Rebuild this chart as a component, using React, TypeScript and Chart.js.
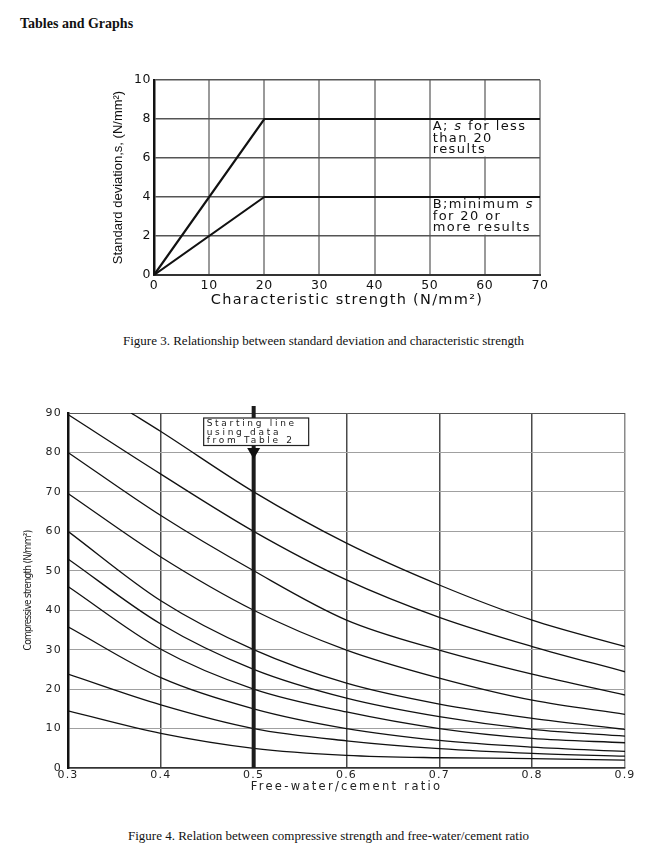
import React, { useEffect, useRef } from 'react';
import { Chart, registerables } from 'chart.js';

Chart.register(...registerables);

// ---------------- Figure 3 data ----------------
const charStrength = [0, 20, 70];
const sdLessThan20 = [0, 8, 8];
const sdMinimum = [0, 4, 4];
const fig3XTicks = [0, 10, 20, 30, 40, 50, 60, 70];
const fig3YTicks = [0, 2, 4, 6, 8, 10];
const noteALines = ['A; _s_ for less', 'than 20', 'results'];
const noteBLines = ['B;minimum _s_', 'for 20 or', 'more results'];

// ---------------- Figure 4 data ----------------
const wcRatio = [0.3, 0.4, 0.5, 0.6, 0.7, 0.8, 0.9];
const curve1Ratio = [0.368, 0.4, 0.5, 0.6, 0.7, 0.8, 0.9];
const curve1 = [90, 85.3, 70, 57, 46.4, 37.5, 30.8];
const curve2 = [89.6, 74.5, 60, 47.7, 38.2, 30.8, 24.4];
const curve3 = [80, 64, 50, 37.5, 29.9, 23.8, 18.5];
const curve4 = [69.6, 53.5, 40, 29.9, 22.8, 17.2, 13.6];
const curve5 = [60, 42.4, 30, 21.5, 16.2, 12.6, 9.8];
const curve6 = [53, 36.5, 25, 17.7, 13, 9.8, 8.1];
const curve7 = [46, 30.1, 20, 14.2, 10, 7.5, 6.4];
const curve8 = [35.8, 22.9, 15, 10, 7, 5.3, 4.2];
const curve9 = [23.8, 16, 10, 6.9, 4.9, 3.7, 3.0];
const curve10 = [14.5, 8.8, 5, 3.2, 2.6, 2.4, 2.0];
const wcTickValues = [0.3, 0.4, 0.5, 0.6, 0.7, 0.8, 0.9];
const wcTickLabels = ['0.3', '0.4', '0.5', '0.6', '0.7', '0.8', '0.9'];
const csTicks = [0, 10, 20, 30, 40, 50, 60, 70, 80, 90];
const startingLineRatio = 0.5;
const startingLineText = ['Starting line', 'using data', 'from Table 2'];

function zeroPad(s: any) {
  s.paddingLeft = 0;
  s.paddingRight = 0;
  s.paddingTop = 0;
  s.paddingBottom = 0;
}

function spacingPlugin(spec: Record<string, { ticks?: number; title?: number }>) {
  return {
    id: 'letterSpacingWrap',
    beforeDraw(chart: any) {
      for (const id of Object.keys(chart.scales)) {
        const s: any = chart.scales[id];
        if (s._lsWrapped) continue;
        s._lsWrapped = true;
        const sp = spec[id] || {};
        const origLabels = s.drawLabels;
        const origTitle = s.drawTitle;
        s.drawLabels = function (area: any) {
          const c = this.ctx;
          c.save();
          c.letterSpacing = (sp.ticks || 0) + 'px';
          origLabels.call(this, area);
          c.restore();
        };
        s.drawTitle = function () {
          const c = this.ctx;
          c.save();
          c.letterSpacing = (sp.title || 0) + 'px';
          origTitle.call(this);
          c.restore();
        };
      }
    },
  };
}

function drawRichLine(ctx: CanvasRenderingContext2D, line: string, x: number, y: number, size: number) {
  const parts = line.split('_');
  let cx = x;
  parts.forEach((p, i) => {
    if (!p) return;
    ctx.font = `${i % 2 === 1 ? 'oblique ' : ''}${size}px "DejaVu Sans"`;
    ctx.fillText(p, cx, y);
    cx += ctx.measureText(p).width;
  });
}

const fig3Notes = {
  id: 'fig3Notes',
  afterDatasetsDraw(chart: any) {
    const { ctx } = chart;
    const xs = chart.scales.x;
    const ys = chart.scales.y;
    const xl = xs.getPixelForValue(50);
    const xr = xs.getPixelForValue(70);
    const blocks = [
      { top: 8, bottom: 6, lines: noteALines },
      { top: 4, bottom: 2, lines: noteBLines },
    ];
    ctx.save();
    for (const b of blocks) {
      const yt = ys.getPixelForValue(b.top);
      const yb = ys.getPixelForValue(b.bottom);
      ctx.fillStyle = '#fff';
      ctx.fillRect(xl + 1.5, yt + 1.6, xr - xl - 3, yb - yt - 3);
      ctx.fillStyle = '#111';
      ctx.textBaseline = 'middle';
      ctx.textAlign = 'left';
      (ctx as any).letterSpacing = '1.4px';
      b.lines.forEach((ln, i) => {
        drawRichLine(ctx, ln, xl + 3, yt + 8 + i * 11.3, 13);
      });
      (ctx as any).letterSpacing = '0px';
    }
    ctx.restore();
  },
};

const startingLinePlugin = {
  id: 'startingLine',
  afterDatasetsDraw(chart: any) {
    const { ctx, chartArea } = chart;
    const xs = chart.scales.x;
    const x = xs.getPixelForValue(startingLineRatio);
    const top = chartArea.top;
    ctx.save();
    ctx.strokeStyle = '#1c1c1c';
    ctx.lineWidth = 4;
    ctx.beginPath();
    ctx.moveTo(x, top - 7);
    ctx.lineTo(x, chartArea.bottom);
    ctx.stroke();
    // box
    ctx.fillStyle = '#fff';
    ctx.fillRect(x - 50, top + 5, 105, 27.5);
    ctx.strokeStyle = '#222';
    ctx.lineWidth = 1.2;
    ctx.strokeRect(x - 50, top + 5, 105, 27.5);
    ctx.fillStyle = '#1a1a1a';
    ctx.textBaseline = 'middle';
    ctx.textAlign = 'left';
    ctx.font = '9px "DejaVu Sans"';
    (ctx as any).letterSpacing = '2.7px';
    startingLineText.forEach((t, i) => {
      ctx.fillText(t, x - 47, top + 10.8 + i * 8.4);
    });
    (ctx as any).letterSpacing = '0px';
    // arrow
    ctx.fillStyle = '#111';
    ctx.beginPath();
    ctx.moveTo(x - 6.5, top + 35);
    ctx.lineTo(x + 6.5, top + 35);
    ctx.lineTo(x, top + 46);
    ctx.closePath();
    ctx.fill();
    ctx.restore();
  },
};

export default function App() {
  const ref1 = useRef<HTMLCanvasElement>(null);
  const ref2 = useRef<HTMLCanvasElement>(null);

  useEffect(() => {
    const c1 = new Chart(ref1.current as HTMLCanvasElement, {
      type: 'line',
      data: {
        datasets: [
          {
            label: 'A',
            data: charStrength.map((x, i) => ({ x, y: sdLessThan20[i] })),
            borderColor: '#111',
            borderWidth: 2.2,
            pointRadius: 0,
            tension: 0,
            fill: false,
          },
          {
            label: 'B',
            data: charStrength.map((x, i) => ({ x, y: sdMinimum[i] })),
            borderColor: '#111',
            borderWidth: 2,
            pointRadius: 0,
            tension: 0,
            fill: false,
          },
        ],
      },
      options: {
        responsive: false,
        animation: false,
        layout: { padding: { top: 10, right: 20, left: 0, bottom: 0 } },
        plugins: { legend: { display: false }, tooltip: { enabled: false } },
        scales: {
          x: {
            type: 'linear',
            min: 0,
            max: 70,
            afterBuildTicks: (s: any) => {
              s.ticks = fig3XTicks.map((v) => ({ value: v }));
            },
            afterFit: (s: any) => {
              s.height = 40;
              zeroPad(s);
            },
            grid: { color: '#9a9a9a', lineWidth: 2, drawTicks: false },
            border: { color: '#333', width: 2 },
            ticks: {
              padding: 3,
              color: '#111',
              maxRotation: 0,
              autoSkip: false,
              font: { family: 'DejaVu Sans', size: 12.5 },
            },
            title: {
              display: true,
              text: 'Characteristic strength (N/mm²)',
              color: '#111',
              font: { family: 'DejaVu Sans', size: 14.5 },
              padding: { top: 0, bottom: 6 },
            },
          },
          y: {
            type: 'linear',
            min: 0,
            max: 10,
            afterBuildTicks: (s: any) => {
              s.ticks = fig3YTicks.map((v) => ({ value: v }));
            },
            afterFit: (s: any) => {
              s.width = 54;
              zeroPad(s);
            },
            grid: { color: '#555', lineWidth: 1.5, drawTicks: false },
            border: { color: '#111', width: 2.5 },
            ticks: {
              padding: 3,
              color: '#111',
              font: { family: 'DejaVu Sans', size: 12.5 },
            },
            title: {
              display: true,
              text: 'Standard deviation,s, (N/mm²)',
              color: '#111',
              font: { family: 'Liberation Sans', size: 13 },
              padding: { top: 11, bottom: 0 },
            },
          },
        },
      } as any,
      plugins: [spacingPlugin({ x: { ticks: 0.6, title: 1.3 }, y: { ticks: 0.6, title: 0 } }), fig3Notes],
    });

    const curves = [curve1, curve2, curve3, curve4, curve5, curve6, curve7, curve8, curve9, curve10];
    const c2 = new Chart(ref2.current as HTMLCanvasElement, {
      type: 'line',
      data: {
        datasets: curves.map((vals, k) => ({
          label: `curve${k + 1}`,
          data: vals.map((y, i) => ({ x: k === 0 ? curve1Ratio[i] : wcRatio[i], y })),
          borderColor: '#111',
          borderWidth: 1.3,
          pointRadius: 0,
          cubicInterpolationMode: 'monotone',
          fill: false,
        })),
      },
      options: {
        responsive: false,
        animation: false,
        layout: { padding: { top: 13, right: 41, left: 0, bottom: 0 } },
        plugins: { legend: { display: false }, tooltip: { enabled: false } },
        scales: {
          x: {
            type: 'linear',
            min: 0.3,
            max: 0.9,
            afterBuildTicks: (s: any) => {
              s.ticks = wcTickValues.map((v) => ({ value: v }));
            },
            afterFit: (s: any) => {
              s.height = 32;
              zeroPad(s);
            },
            grid: {
              color: (c: any) => (c.tick && c.tick.value === 0.9 ? '#8a8a8a' : '#4a4a4a'),
              lineWidth: 1.5,
              drawTicks: false,
            },
            border: { color: '#333', width: 1.5 },
            ticks: {
              padding: 1,
              color: '#222',
              maxRotation: 0,
              autoSkip: false,
              font: { family: 'DejaVu Sans', size: 11 },
              callback: (_v: any, i: number) => wcTickLabels[i],
            },
            title: {
              display: true,
              text: 'Free-water/cement ratio',
              color: '#222',
              font: { family: 'DejaVu Sans', size: 11.5 },
              padding: { top: 0, bottom: 6.5 },
            },
          },
          y: {
            type: 'linear',
            min: 0,
            max: 90,
            afterBuildTicks: (s: any) => {
              s.ticks = csTicks.map((v) => ({ value: v }));
            },
            afterFit: (s: any) => {
              s.width = 68;
              zeroPad(s);
            },
            grid: {
              color: (c: any) => (c.tick && c.tick.value === 90 ? '#555' : '#a0a0a0'),
              lineWidth: 1,
              drawTicks: false,
            },
            border: { color: '#111', width: 2.5 },
            ticks: {
              padding: 6,
              color: '#222',
              font: { family: 'DejaVu Sans', size: 11 },
            },
            title: {
              display: true,
              text: 'Compressive strength (N/mm²)',
              color: '#222',
              font: { family: "'DejaVu Sans Condensed', sans-serif", size: 10 },
              padding: { top: 22, bottom: 0 },
            },
          },
        },
      } as any,
      plugins: [spacingPlugin({ x: { ticks: 1.2, title: 2.3 }, y: { ticks: 1.2, title: -0.7 } }), startingLinePlugin],
    });

    return () => {
      c1.destroy();
      c2.destroy();
    };
  }, []);

  const serif = '"Liberation Serif", "Times New Roman", serif';
  return (
    <div
      style={{
        position: 'absolute',
        left: 0,
        top: 0,
        width: 666,
        height: 866,
        background: '#fff',
        fontFamily: serif,
        color: '#111',
        overflow: 'hidden',
      }}
    >
      <div style={{ position: 'absolute', left: 20, top: 16, fontSize: 14, lineHeight: '16px', fontWeight: 'bold', whiteSpace: 'nowrap' }}>
        Tables and Graphs
      </div>
      <canvas ref={ref1} width={460} height={245} style={{ position: 'absolute', left: 100, top: 70, width: 460, height: 245 }} />
      <div style={{ position: 'absolute', left: 123, top: 333, fontSize: 13, lineHeight: '16px', whiteSpace: 'nowrap' }}>
        Figure 3. Relationship between standard deviation and characteristic strength
      </div>
      <canvas ref={ref2} width={666} height={400} style={{ position: 'absolute', left: 0, top: 400, width: 666, height: 400 }} />
      <div style={{ position: 'absolute', left: 128, top: 828, fontSize: 13, lineHeight: '16px', whiteSpace: 'nowrap' }}>
        Figure 4. Relation between compressive strength and free-water/cement ratio
      </div>
    </div>
  );
}
